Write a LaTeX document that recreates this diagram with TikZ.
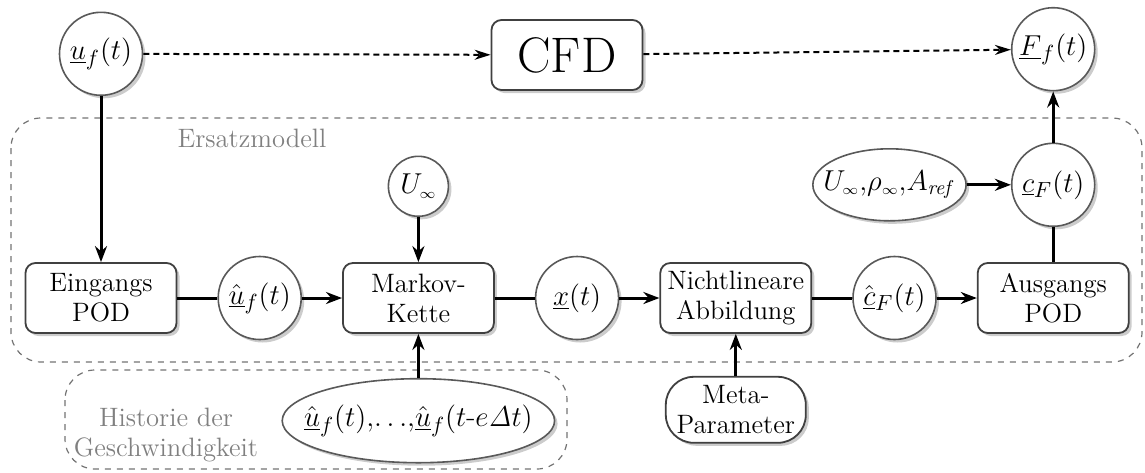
\documentclass[tikz,border=0pt]{standalone}
\usetikzlibrary{arrows.meta,positioning,shapes.geometric,shadows}

\begin{document}
\begin{tikzpicture}[x=0.5pt, y=-0.5pt, node distance=20pt,
  font=\fontsize{13.3}{15}\selectfont,
  shade/.style={drop shadow={opacity=0.4, shadow xshift=1.5pt, shadow yshift=-1.5pt}},
  box/.style={draw=black!75, line width=0.9pt, rounded corners=5pt, fill=white, minimum width=75.5pt, minimum height=35pt, align=center, inner sep=2pt, shade},
  sig/.style={circle, draw=black!65, line width=0.8pt, fill=white, minimum size=41.5pt, inner sep=0pt, font=\fontsize{15}{17}\selectfont, shade},
  prm/.style={ellipse, draw=black!65, line width=0.8pt, fill=white, inner ysep=0pt, font=\fontsize{15}{17}\selectfont, shade},
  frame/.style={draw=black!55, dashed, line width=0.6pt, rounded corners=15pt},
  lbl/.style={text=black!50, align=center},
  arr/.style={-{Stealth[length=8pt, width=6pt]}, line width=1.5pt},
  con/.style={line width=1.5pt},
  sim/.style={-{Stealth[length=8pt, width=5pt]}, densely dashed, line width=1pt}]
\useasboundingbox (0,0) rectangle (1145,472);
% Rahmen
\draw[frame] (11,118) rectangle (1142,362);
\draw[frame] (65,370) rectangle (567,469);
\node[lbl] (ersatz) at (252,138) {Ersatzmodell};
\node[lbl] (histlbl) at (166,435) {Historie der\\Geschwindigkeit};
% Hauptkette
\node[box] (ein) at (101,298) {Eingangs\\POD};
\node[sig, right=of ein] (uhat) {$\hat{\underline{u}}_f(t)$};
\node[box, right=of uhat] (mk) {Markov-\\Kette};
\node[sig, right=of mk] (xt) {$\underline{x}(t)$};
\node[box, right=of xt] (nl) {Nichtlineare\\Abbildung};
\node[sig, right=of nl] (chat) {$\hat{\underline{c}}_F(t)$};
\node[box, right=of chat] (aus) {Ausgangs\\POD};
\node[sig, above=17.5pt of aus] (cF) {$\underline{c}_F(t)$};
\node[sig, above=25.5pt of cF] (Ff) {$\underline{F}_f(t)$};
\node[sig, above=83pt of ein] (uin) {$\underline{u}_f(t)$};
\node[box, font=\fontsize{25}{28}\selectfont] (cfd) at (567,55) {CFD};
% Parameter
\node[sig, minimum size=30pt, above=22.5pt of mk] (uinf) {$U_{\scriptscriptstyle\infty}$};
\node[prm, inner xsep=-6pt, minimum width=71pt, minimum height=36pt, font=\fontsize{14}{16}\selectfont, left=22pt of cF] (ref) {$U_{\scriptscriptstyle\infty}{,}\rho_{\scriptscriptstyle\infty}{,}A_{\mathit{ref}}$};
\node[prm, inner xsep=-9pt, minimum width=126.5pt, minimum height=42pt, below=22pt of mk] (hist) {$\hat{\underline{u}}_f(t){,}\mathord{\ldots}{,}\hat{\underline{u}}_f(t\mbox{-}e\mathit{\Delta}t)$};
\node[box, rounded corners=14pt, minimum width=70pt, minimum height=33pt, below=21pt of nl] (meta) {Meta-\\Parameter};
% Verbindungen
\draw[sim] (uin) -- (cfd);
\draw[sim] (cfd) -- (Ff);
\draw[arr] (uin) -- (ein);
\draw[con] (ein) -- (uhat);
\draw[arr] (uhat) -- (mk);
\draw[arr] (uinf) -- (mk);
\draw[arr] (hist) -- (mk);
\draw[con] (mk) -- (xt);
\draw[arr] (xt) -- (nl);
\draw[arr] (meta) -- (nl);
\draw[con] (nl) -- (chat);
\draw[arr] (chat) -- (aus);
\draw[con] (aus) -- (cF);
\draw[arr] (ref) -- (cF);
\draw[arr] (cF) -- (Ff);
\end{tikzpicture}
\end{document}
